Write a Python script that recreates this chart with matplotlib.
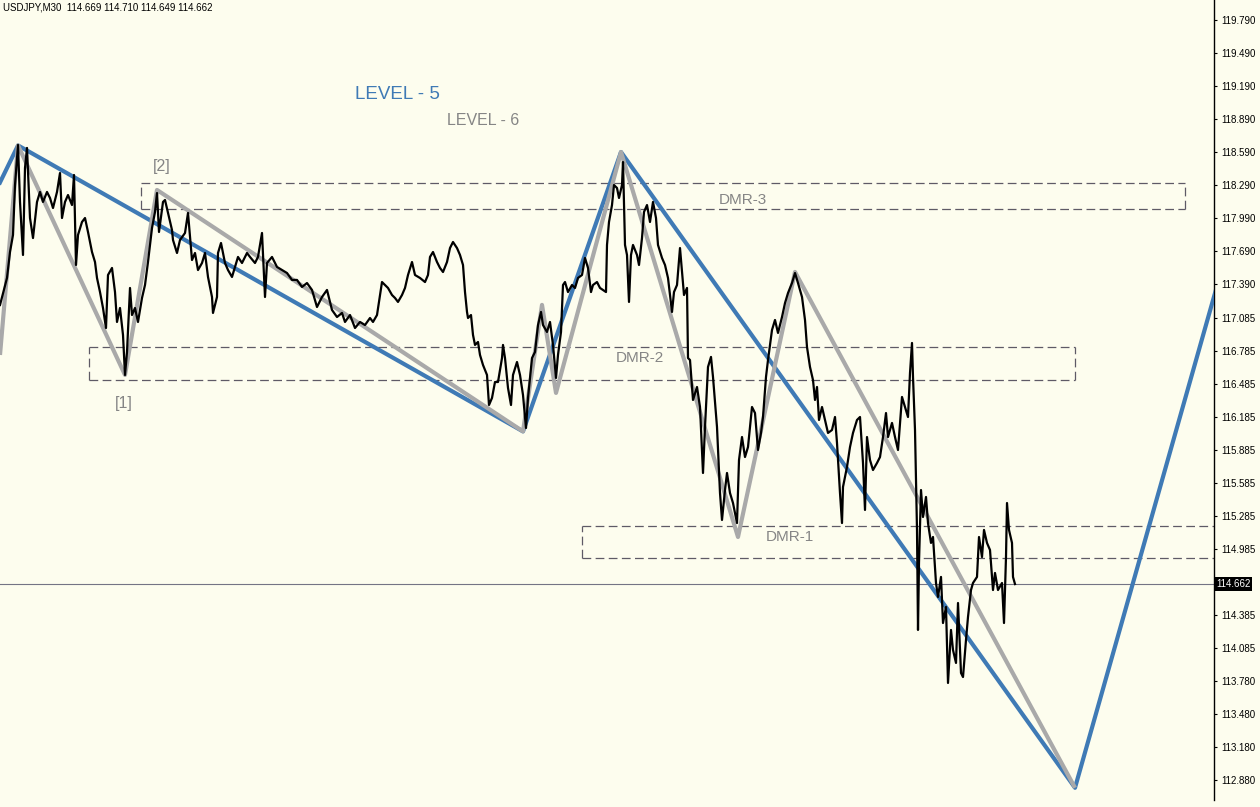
import matplotlib
matplotlib.use("Agg")
import matplotlib.pyplot as plt
import matplotlib.transforms as mtransforms

plt.rcParams['font.family'] = ['Liberation Sans', 'DejaVu Sans']

# USDJPY M30 price path (bar index, price)
bars = [0, 7, 10, 13, 15, 18, 20, 23, 25, 27, 30, 33, 37, 40, 43, 47, 50, 53, 57, 60,
        62, 65, 68, 72, 74, 76, 78, 82, 85, 88, 92, 95, 97, 100, 103, 106, 108, 112, 115, 117,
        120, 123, 125, 127, 130, 132, 135, 138, 142, 145, 148, 152, 155, 157, 159, 163, 165, 168, 172, 173,
        177, 180, 185, 188, 192, 195, 198, 202, 205, 208, 212, 213, 217, 218, 221, 225, 228, 232, 235, 238,
        242, 247, 250, 255, 258, 262, 265, 267, 272, 277, 282, 287, 292, 297, 302, 307, 312, 317, 322, 327,
        332, 337, 342, 345, 350, 355, 360, 365, 370, 373, 377, 379, 382, 385, 388, 392, 395, 398, 402, 405,
        408, 412, 415, 420, 425, 428, 430, 433, 437, 440, 443, 447, 450, 453, 457, 460, 463, 465, 467, 468,
        471, 473, 475, 478, 480, 483, 487, 489, 492, 495, 498, 502, 503, 505, 508, 511, 513, 517, 520, 523,
        526, 528, 532, 535, 538, 541, 543, 547, 550, 553, 556, 558, 561, 563, 565, 568, 572, 575, 578, 582,
        585, 588, 591, 593, 597, 600, 603, 606, 607, 609, 612, 614, 617, 619, 622, 623, 625, 627, 629, 631,
        633, 637, 639, 642, 644, 647, 650, 653, 656, 658, 662, 665, 668, 672, 674, 677, 680, 682, 684, 687,
        688, 690, 693, 697, 700, 703, 705, 708, 711, 713, 717, 720, 722, 725, 727, 730, 733, 737, 739, 742,
        745, 748, 752, 755, 758, 761, 763, 766, 768, 772, 775, 778, 782, 785, 788, 792, 795, 798, 802, 805,
        807, 810, 813, 815, 817, 819, 822, 825, 828, 832, 835, 837, 840, 842, 843, 847, 850, 853, 857, 860,
        863, 865, 867, 870, 873, 877, 880, 883, 886, 888, 892, 895, 898, 902, 905, 908, 910, 912, 913, 915,
        917, 918, 919, 921, 923, 926, 928, 931, 933, 936, 938, 941, 943, 946, 948, 951, 953, 956, 958, 961,
        963, 966, 968, 971, 973, 977, 979, 982, 984, 987, 990, 993, 995, 998, 1002, 1004, 1006, 1007, 1009, 1012,
        1013, 1015]
prices = [117.199, 117.445, 117.681, 117.836, 118.290, 118.654, 118.136, 117.654, 118.445, 118.627,
          117.990, 117.808, 118.136, 118.227, 118.136, 118.227, 118.172, 118.081, 118.227, 118.399,
          117.990, 118.136, 118.199, 118.108, 118.381, 117.563, 117.836, 117.954, 117.990, 117.863,
          117.681, 117.590, 117.445, 117.317, 117.172, 116.990, 117.472, 117.536, 117.317, 117.045,
          117.172, 116.927, 116.563, 116.772, 117.354, 117.108, 117.172, 117.045, 117.263, 117.381,
          117.590, 117.899, 118.045, 118.217, 117.863, 118.136, 118.154, 118.036, 117.881, 117.790,
          117.672, 117.790, 117.854, 118.036, 117.608, 117.672, 117.517, 117.581, 117.672, 117.454,
          117.272, 117.127, 117.272, 117.672, 117.763, 117.581, 117.517, 117.454, 117.545, 117.636,
          117.581, 117.672, 117.636, 117.581, 117.636, 117.854, 117.272, 117.581, 117.636, 117.545,
          117.517, 117.490, 117.427, 117.427, 117.363, 117.399, 117.336, 117.181, 117.272, 117.336,
          117.154, 117.090, 117.127, 117.045, 117.108, 116.990, 117.045, 117.017, 117.081, 117.045,
          117.108, 117.227, 117.408, 117.381, 117.354, 117.290, 117.263, 117.227, 117.290, 117.354,
          117.472, 117.590, 117.472, 117.445, 117.408, 117.472, 117.636, 117.681, 117.590, 117.536,
          117.499, 117.590, 117.717, 117.772, 117.717, 117.654, 117.563, 117.317, 117.136, 117.081,
          117.108, 116.927, 116.836, 116.863, 116.745, 116.654, 116.563, 116.290, 116.354, 116.499,
          116.499, 116.717, 116.836, 116.717, 116.445, 116.290, 116.563, 116.681, 116.563, 116.381,
          116.081, 116.354, 116.717, 116.772, 117.017, 117.136, 117.017, 116.954, 117.045, 116.836,
          116.536, 116.745, 116.954, 117.381, 117.408, 117.317, 117.381, 117.354, 117.445, 117.472,
          117.627, 117.536, 117.317, 117.381, 117.408, 117.354, 117.336, 117.317, 117.745, 117.954,
          118.108, 118.290, 118.263, 118.172, 118.290, 118.499, 117.745, 117.654, 117.227, 117.654,
          117.745, 117.654, 117.563, 117.808, 118.045, 118.108, 117.954, 118.136, 117.990, 117.745,
          117.627, 117.563, 117.445, 117.136, 117.317, 117.381, 117.717, 117.499, 117.290, 117.354,
          116.717, 116.699, 116.336, 116.454, 116.272, 115.672, 116.090, 116.636, 116.727, 116.545,
          116.090, 115.490, 115.245, 115.517, 115.672, 115.490, 115.399, 115.217, 115.790, 115.999,
          115.817, 115.908, 116.272, 116.217, 115.881, 116.036, 116.181, 116.545, 116.699, 116.972,
          117.063, 116.945, 117.090, 117.217, 117.308, 117.399, 117.490, 117.399, 117.272, 117.063,
          116.817, 116.636, 116.517, 116.336, 116.454, 116.154, 116.272, 116.154, 116.036, 116.063,
          116.181, 115.945, 115.490, 115.217, 115.545, 115.727, 115.908, 116.036, 116.154, 116.181,
          115.763, 115.336, 115.999, 115.790, 115.699, 115.763, 115.817, 115.999, 116.217, 115.999,
          116.127, 115.999, 115.881, 116.363, 116.272, 116.181, 116.581, 116.854, 116.545, 116.063,
          115.154, 114.245, 114.854, 115.517, 115.272, 115.454, 115.217, 115.036, 115.090, 114.672,
          114.545, 114.727, 114.308, 114.454, 113.763, 114.245, 114.063, 113.945, 114.490, 113.854,
          113.817, 114.154, 114.363, 114.608, 114.672, 114.727, 115.090, 114.908, 115.154, 115.036,
          114.972, 114.608, 114.763, 114.608, 114.672, 114.308, 114.908, 115.399, 115.154, 115.036,
          114.727, 114.662]

# wave zigzags
level5_x = [-5, 18, 523, 621, 1075, 1240]
level5_y = [118.22, 118.65, 116.05, 118.59, 112.81, 118.11]
level6_x = [0, 18, 125, 157, 523, 542, 556, 621, 738, 795, 1075]
level6_y = [116.745, 118.65, 116.563, 118.245, 116.05, 117.20, 116.40, 118.59, 115.09, 117.50, 112.81]

# DMR zones
dmr_names = ['DMR-3', 'DMR-2', 'DMR-1']
dmr_top = [118.308, 116.817, 115.19]
dmr_bot = [118.072, 116.517, 114.899]
dmr_left = [141, 89, 582]
dmr_right = [1185, 1075, None]
dmr_label_x = [743, 640, 790]
dmr_label_y = [118.154, 116.717, 115.09]

last_price = 114.662
tick_labels = ['119.790', '119.490', '119.190', '118.890', '118.590', '118.290', '117.990',
               '117.690', '117.390', '117.085', '116.785', '116.485', '116.185', '115.885',
               '115.585', '115.285', '114.985', '114.685', '114.385', '114.085', '113.780',
               '113.480', '113.180', '112.880']

bg = '#fdfdee'
blue = '#3f7ab5'
grey = '#a9a9a9'
dash_col = '#5e5a66'
txt_grey = '#858585'

fig = plt.figure(figsize=(12.6, 8.07), dpi=100)
fig.patch.set_facecolor(bg)
ax = fig.add_axes([0, 7 / 807, 1214 / 1260, 800 / 807])
ax.set_facecolor(bg)
ax.set_xlim(0, 1214)
ax.set_ylim(112.699, 119.972)

# zones
for name, top, bot, l, r, lx, ly in zip(dmr_names, dmr_top, dmr_bot, dmr_left, dmr_right,
                                        dmr_label_x, dmr_label_y):
    rr = 1214 if r is None else r
    kw = dict(color=dash_col, lw=0.9, dashes=(7, 3.5), zorder=2)
    ax.plot([l, rr], [top, top], **kw)
    ax.plot([l, rr], [bot, bot], **kw)
    ax.plot([l, l], [bot, top], **kw)
    if r is not None:
        ax.plot([r, r], [bot, top], **kw)
    ax.text(lx, ly, name, color=txt_grey, fontsize=11, ha='center', va='center', zorder=3)

ax.axhline(last_price, color='#747484', lw=0.8, zorder=2)

ax.plot(level5_x, level5_y, color=blue, lw=3.0, solid_capstyle='butt', zorder=3)
ax.plot(level6_x, level6_y, color=grey, lw=3.0, solid_capstyle='butt', zorder=4)
ax.plot(bars, prices, color='black', lw=1.6, zorder=5)

ax.text(397, 119.117, 'LEVEL - 5', color=blue, fontsize=13.5, ha='center', va='center')
ax.text(483, 118.872, 'LEVEL - 6', color=txt_grey, fontsize=11.5, ha='center', va='center')
ax.text(162, 118.454, '[2]', color=txt_grey, fontsize=11.5, ha='center', va='center')
ax.text(124, 116.308, '[1]', color=txt_grey, fontsize=11.5, ha='center', va='center')

# right price scale
for s in ['top', 'left', 'bottom']:
    ax.spines[s].set_visible(False)
ax.spines['right'].set_color('black')
ax.spines['right'].set_linewidth(1.0)
ax.set_xticks([])
ax.yaxis.tick_right()
ax.set_yticks([float(t) for t in tick_labels])
ax.set_yticklabels([t if t != '114.685' else '' for t in tick_labels])
ax.tick_params(axis='y', direction='out', length=2.5, width=0.8, pad=2.5, labelsize=7, colors='black')

tr = mtransforms.blended_transform_factory(ax.transAxes, ax.transData)
ax.text(1.0015, last_price, '114.662', transform=tr, color='white', fontsize=7, ha='left', va='center',
        bbox=dict(facecolor='black', edgecolor='none', pad=1.6), clip_on=False, zorder=10)

fig.text(3 / 1260, 1 - 8 / 807, 'USDJPY,M30  114.669 114.710 114.649 114.662', fontsize=7,
         color='black', ha='left', va='center')

fig.savefig('out.png', dpi=100, facecolor=bg)
